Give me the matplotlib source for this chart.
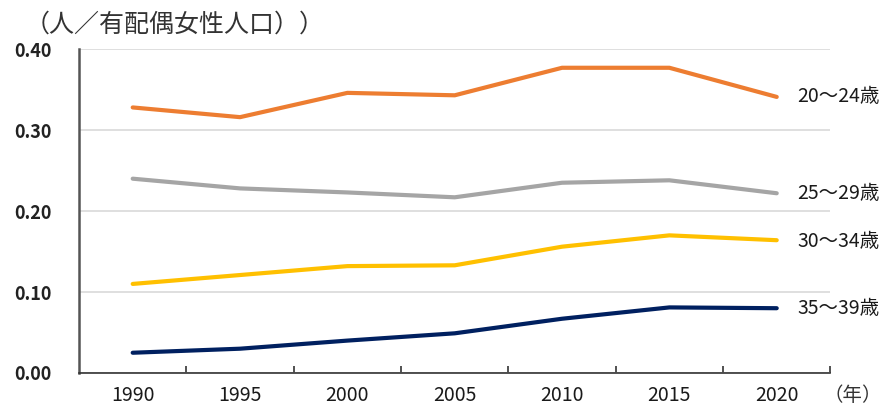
import matplotlib.pyplot as plt

plt.rcParams['font.family'] = ['Noto Sans CJK JP', 'DejaVu Sans']

years = ['1990', '1995', '2000', '2005', '2010', '2015', '2020']
age_20_24 = [0.328, 0.316, 0.346, 0.343, 0.377, 0.377, 0.341]
age_25_29 = [0.240, 0.228, 0.223, 0.217, 0.235, 0.238, 0.222]
age_30_34 = [0.110, 0.121, 0.132, 0.133, 0.156, 0.170, 0.164]
age_35_39 = [0.025, 0.030, 0.040, 0.049, 0.067, 0.081, 0.080]
series_labels = ['20～24歳', '25～29歳', '30～34歳', '35～39歳']
colors = ['#ED7D31', '#A5A5A5', '#FFC000', '#002060']
yticks = [0.0, 0.1, 0.2, 0.3, 0.4]

fig = plt.figure(figsize=(8.85, 4.12), dpi=100)
ax = fig.add_axes([0.0893, 0.0947, 0.849, 0.786])

x = list(range(len(years)))
for vals, lab, c in zip([age_20_24, age_25_29, age_30_34, age_35_39], series_labels, colors):
    ax.plot(x, vals, color=c, lw=3, solid_capstyle='round', zorder=3)

# 右側の系列ラベル
label_y = [0.341, 0.222, 0.163, 0.080]
for y, lab in zip(label_y, series_labels):
    ax.text(6.19, y, lab, fontsize=14, va='center', ha='left', color='#1a1a1a', clip_on=False)

ax.set_xlim(-0.5, 6.5)
ax.set_ylim(0, 0.40)
ax.set_yticks(yticks)
ax.set_yticklabels([f'{v:.2f}' for v in yticks], fontsize=13, fontweight='bold', color='#222222')
ax.yaxis.grid(True, color='#D9D9D9', lw=1.2)
ax.set_axisbelow(True)
ax.tick_params(axis='y', length=0, pad=20)

ax.set_xticks([i + 0.5 for i in x])
ax.set_xticklabels([])
ax.set_xticks(x, minor=True)
ax.set_xticklabels(years, minor=True, fontsize=14, color='#1a1a1a')
ax.tick_params(axis='x', which='major', direction='in', length=5, width=1.2, color='#333333')
ax.tick_params(axis='x', which='minor', length=0, pad=9)

for s in ['top', 'right']:
    ax.spines[s].set_visible(False)
ax.spines['left'].set_color('#555555')
ax.spines['left'].set_linewidth(1.8)
ax.spines['bottom'].set_color('#333333')
ax.spines['bottom'].set_linewidth(1.2)

fig.text(0.028, 0.94, '（人／有配偶女性人口））', fontsize=18, color='#333333', va='center', ha='left')
fig.text(0.93, 0.04, '（年）', fontsize=14, color='#333333', va='center', ha='left')

fig.savefig('out.png', dpi=100)
